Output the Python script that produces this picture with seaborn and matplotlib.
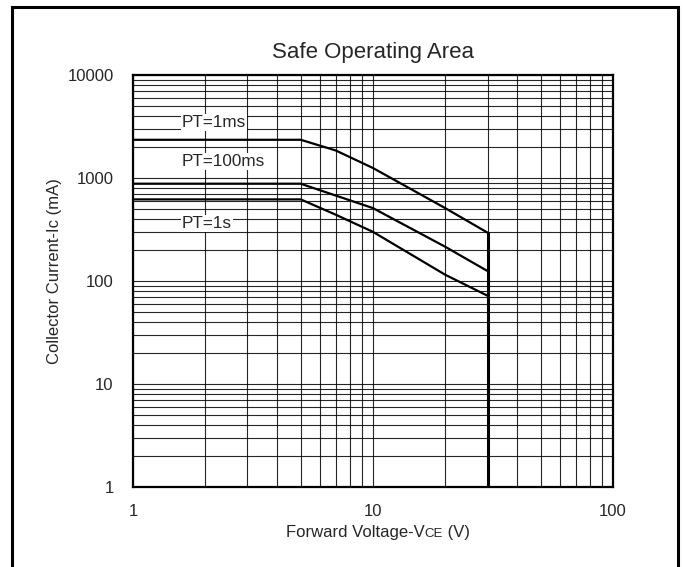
import matplotlib
matplotlib.use("Agg")
import matplotlib.pyplot as plt
import seaborn as sns
import pandas as pd
from matplotlib.patches import Rectangle
from matplotlib.ticker import LogLocator, NullFormatter, FixedLocator
from matplotlib.transforms import offset_copy

sns.set_style("white")
plt.rcParams['font.family'] = ['Liberation Sans', 'DejaVu Sans']

# data
v_1ms = [1, 5, 7, 10, 20, 30]
i_1ms = [2350, 2350, 1850, 1250, 510, 295]
v_100ms = [1, 5, 10, 20, 30]
i_100ms = [880, 880, 510, 215, 125]
v_1s = [1, 5, 7, 10, 20, 30]
i_1s = [620, 620, 440, 300, 115, 72]
v_limit = [30, 30]
i_limit = [295, 1]

labels = ["PT=1ms", "PT=100ms", "PT=1s"]
label_pos = [(1.6, 3130), (1.6, 1310), (1.6, 327)]

fig = plt.figure(figsize=(6.84, 5.67), dpi=100)
ax = fig.add_axes([0.1944, 0.1411, 0.7018, 0.7266])

for v, i in [(v_1ms, i_1ms), (v_100ms, i_100ms), (v_1s, i_1s)]:
    df = pd.DataFrame({"V": v, "I": i})
    sns.lineplot(data=df, x="V", y="I", ax=ax, color="black", lw=1.6,
                 sort=False, estimator=None, zorder=5)
dfl = pd.DataFrame({"V": v_limit, "I": i_limit})
sns.lineplot(data=dfl, x="V", y="I", ax=ax, color="black", lw=2.2,
             sort=False, estimator=None, zorder=5)

ax.set_xscale("log")
ax.set_yscale("log")
ax.set_xlim(1, 100)
ax.set_ylim(1, 10000)

ax.xaxis.set_major_locator(FixedLocator([1, 10, 100]))
ax.yaxis.set_major_locator(FixedLocator([1, 10, 100, 1000, 10000]))
ax.xaxis.set_minor_locator(LogLocator(base=10, subs=range(2, 10)))
ax.yaxis.set_minor_locator(LogLocator(base=10, subs=range(2, 10)))
ax.xaxis.set_minor_formatter(NullFormatter())
ax.yaxis.set_minor_formatter(NullFormatter())
ax.set_xticklabels(["1", "10", "100"])
ax.set_yticklabels(["1", "10", "100", "1000", "10000"])
ax.tick_params(axis="both", which="both", length=0, labelsize=12)
ax.tick_params(axis="x", pad=12)
ax.tick_params(axis="y", pad=14)

ax.grid(True, which="both", color="black", lw=0.8, alpha=0.85)
for s in ax.spines.values():
    s.set_color("black")
    s.set_linewidth(1.6)

for t, (x, y) in zip(labels, label_pos):
    ax.text(x, y, t, fontsize=12.3, ha="left", va="baseline", zorder=6,
            bbox=dict(facecolor="white", edgecolor="none", pad=0.6))

ax.set_title("Safe Operating Area", fontsize=16, pad=12)
ax.set_xlabel("")
ax.set_ylabel("")

# y label
fig.text(55 / 684, 1 - 271 / 567, "Collector Current-Ic (mA)", fontsize=12,
         rotation=90, ha="center", va="center")

# x label composed of pieces (small "CE")
fig.canvas.draw()
renderer = fig.canvas.get_renderer()
base_y = 1 - 537 / 567
pieces = [("Forward Voltage-V", 12), ("CE", 9.5), (" (V)", 12)]
widths = []
for s, fs in pieces:
    tt = fig.text(0, 0, s, fontsize=fs)
    widths.append(tt.get_window_extent(renderer).width)
    tt.remove()
total = sum(widths)
x0 = 378 - total / 2
for (s, fs), w in zip(pieces, widths):
    fig.text(x0 / 684, base_y, s, fontsize=fs, ha="left", va="baseline")
    x0 += w

fig.patches.append(Rectangle((12 / 684, -0.05), 666 / 684, 1 - 7 / 567 + 0.05,
                             transform=fig.transFigure, fill=False,
                             edgecolor="black", lw=2.2))

fig.savefig("out.png", dpi=100, facecolor="white")
